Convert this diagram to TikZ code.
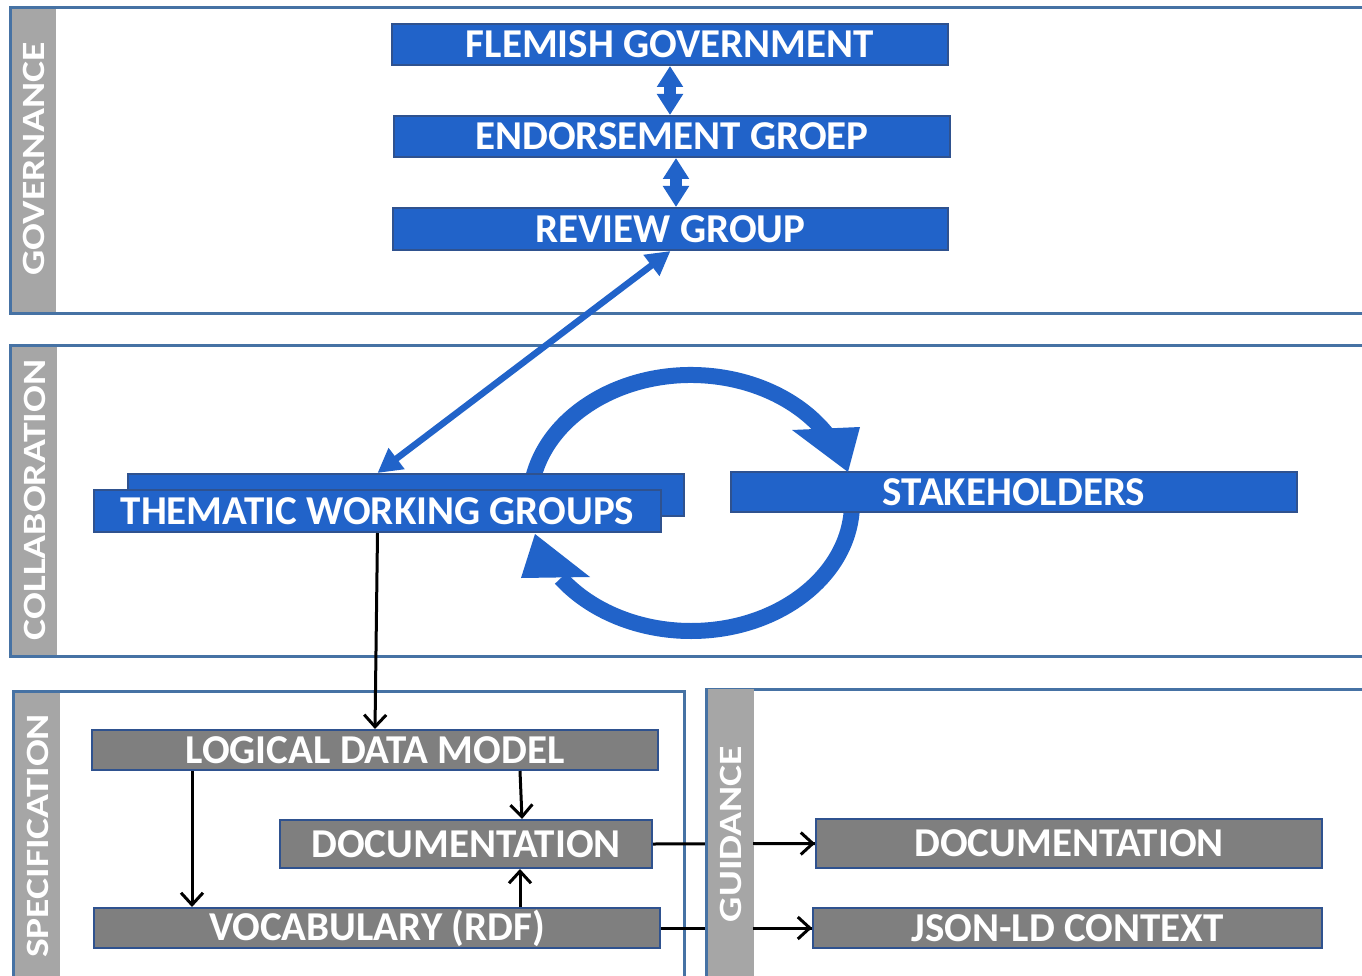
\documentclass[tikz,border=0pt]{standalone}
\usepackage{graphicx}
\usepackage{fontspec}
\setmainfont{Carlito}
\usetikzlibrary{arrows.meta,calc}
\definecolor{boxblue}{RGB}{33,99,201}
\definecolor{boxedge}{RGB}{47,82,143}
\definecolor{panelblue}{RGB}{70,114,164}
\definecolor{stripgray}{RGB}{166,166,166}
\definecolor{boxgray}{RGB}{127,127,127}
\pgfdeclarelayer{back}
\pgfdeclarelayer{lines}
\pgfdeclarelayer{striplayer}
\pgfsetlayers{back,lines,striplayer,main}
\newcommand{\boxfont}{\fontsize{41}{41}\selectfont\bfseries}
\newcommand{\stripfont}{\fontsize{32.5}{32.5}\selectfont\bfseries}
\begin{document}
\begin{tikzpicture}[x=1pt,y=-1pt,
  bluebox/.style={draw=boxedge,line width=2pt,fill=boxblue,text=white,font=\boxfont,inner sep=0pt},
  graybox/.style={draw=boxedge,line width=2pt,fill=boxgray,text=white,font=\boxfont,inner sep=0pt},
  stripbox/.style={fill=stripgray},
  striplabel/.style={rotate=90,text=white,font=\stripfont,inner sep=0pt},
  panel/.style={draw=panelblue,line width=3pt},
  blk/.style={draw=black,line width=3pt,-{Straight Barb[length=12pt,width=22pt,line width=3pt]}},
  dblblock/.style={boxblue,line width=12pt,{Triangle[length=21pt,width=25pt]}-{Triangle[length=21pt,width=25pt]}},
  diag/.style={boxblue,line width=6.5pt,{Triangle[length=24pt,width=25pt]}-{Triangle[length=24pt,width=25pt]}},
  cyc/.style={boxblue,line width=16pt}]
\useasboundingbox (0,0) rectangle (1362,976);
\clip (0,0) rectangle (1362,976);

% panels
\begin{pgfonlayer}{back}
  \fill[white] (0,0) rectangle (1362,976);
  \fill[stripbox] (10,8) rectangle (56,313);
  \draw[panel] (10,8) rectangle (1380,313);
  \fill[stripbox] (10,345) rectangle (57,656);
  \draw[panel] (10,345) rectangle (1380,656);
  \fill[stripbox] (13,691) rectangle (60,990);
  \draw[panel] (13,691) rectangle (684,990);
  \draw[panel] (706,689) rectangle (1380,990);
\end{pgfonlayer}
\begin{pgfonlayer}{striplayer}
  \fill[stripbox] (706,689) rectangle (754,990);
  \draw[panel] (706,689) -- (706,990);
\end{pgfonlayer}

\node[striplabel] (govlbl) at (34,159) {\scalebox{1.22}[1]{GOVERNANCE}};
\node[striplabel] (collbl) at (34.5,500) {\scalebox{1.22}[1]{COLLABORATION}};
\node[striplabel] (speclbl) at (37.5,836) {\scalebox{1.22}[1]{SPECIFICATION}};
\node[striplabel] (guidlbl) at (731,834) {\scalebox{1.22}[1]{GUIDANCE}};

% governance boxes
\node[bluebox,minimum width=556pt,minimum height=41pt] (fg) at (670,44.5) {FLEMISH GOVERNMENT};
\node[bluebox,minimum width=556pt,minimum height=41pt] (eg) at (672,136.5) {ENDORSEMENT GROEP};
\node[bluebox,minimum width=555pt,minimum height=42pt] (rg) at (670.5,229) {REVIEW GROUP};

% collaboration
\begin{pgfonlayer}{lines}
  \draw[cyc] (691,503) ++(192:161 and 128) arc[start angle=192,end angle=328,x radius=161,y radius=128];
  \draw[cyc] (691,503) ++(0:161 and 128) arc[start angle=0,end angle=144,x radius=161,y radius=128];
\end{pgfonlayer}
\node[bluebox,minimum width=556pt,minimum height=42pt] (twgback) at (406,495) {};
\node[bluebox,minimum width=567pt,minimum height=42pt] (twg) at (377.5,511) {THEMATIC WORKING GROUPS};
\node[bluebox,minimum width=566pt,minimum height=40pt] (sth) at (1014,492) {STAKEHOLDERS};
\fill[boxblue] (792,430) -- (860,427) -- (848,472) -- cycle;
\fill[boxblue] (521,578) -- (590,577) -- (535,534) -- cycle;

% specification
\node[graybox,minimum width=566pt,minimum height=40pt] (ldm) at (375,750) {LOGICAL DATA MODEL};
\node[graybox,minimum width=372pt,minimum height=48pt] (doc) at (466,844) {DOCUMENTATION};
\node[graybox,minimum width=566pt,minimum height=40pt] (voc) at (377,928) {VOCABULARY (RDF)};
% guidance
\node[graybox,minimum width=506pt,minimum height=49pt] (gdoc) at (1069,843.5) {DOCUMENTATION};
\node[graybox,minimum width=509pt,minimum height=40pt] (json) at (1067.5,928) {JSON-LD CONTEXT};

% governance arrows
\draw[dblblock] (fg.south) -- (fg.south |- eg.north);
\draw[dblblock] ([xshift=4pt]eg.south) -- ([xshift=4pt]eg.south |- rg.north);
\draw[diag] (rg.south) -- (twg.center |- twgback.north);

% black arrows
\draw[blk] (twg.south) -- (ldm.north);
\draw[blk] ([xshift=101pt]ldm.south west) -- ([xshift=99pt]voc.north west);
\draw[blk] ([xshift=429pt]ldm.south west) -- ([xshift=243pt]doc.north west);
\draw[blk] ([xshift=427pt]voc.north west) -- ([xshift=241pt]doc.south west);
\begin{pgfonlayer}{lines}
  \draw[line width=3pt] (doc.east) -- (gdoc.west);
  \draw[line width=3pt] (voc.east) -- (json.west);
\end{pgfonlayer}
\draw[blk] ([xshift=-62pt]gdoc.west) -- (gdoc.west);
\draw[blk] ([xshift=-59pt]json.west) -- (json.west);
\end{tikzpicture}
\end{document}
